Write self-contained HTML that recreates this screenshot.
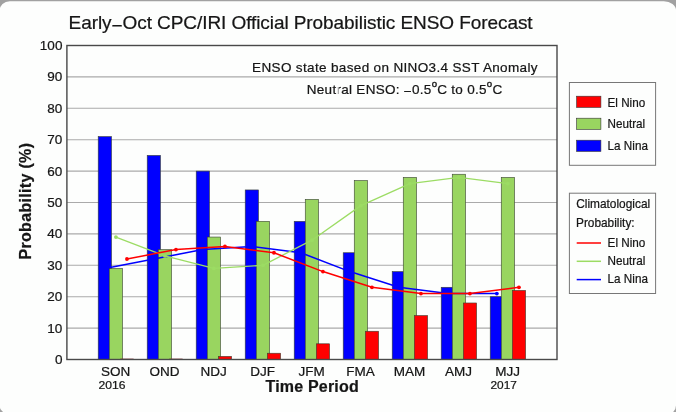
<!DOCTYPE html>
<html><head><meta charset="utf-8"><title>ENSO Forecast</title>
<style>
html,body{margin:0;padding:0;background:#a1a1a1;overflow:hidden}
body{width:676px;height:412px;position:relative}
svg{display:block;position:absolute;left:-20px;top:-20px}
text{font-family:"Liberation Sans",Arial,Helvetica,sans-serif;fill:#151515;stroke:#151515;stroke-width:0.22px}
</style></head><body>
<svg width="716" height="452" viewBox="-20 -20 716 452">
<defs><filter id="soft" x="-5%" y="-5%" width="110%" height="110%" filterUnits="objectBoundingBox"><feGaussianBlur stdDeviation="0.38"/></filter></defs>
<g filter="url(#soft)">
<rect x="-30" y="-30" width="736" height="472" fill="#a1a1a1"/>
<path d="M9.8 1.3 H663.8 A12.3 9.5 0 0 1 676.1 10.8 V405.1 A10.5 10 0 0 1 665.6 415.1 L9.8 414.4 A10.3 9.5 0 0 1 -0.5 404.9 V10.8 A10.3 9.5 0 0 1 9.8 1.3 Z" fill="#fdfefd"/>

<line x1="66.9" x2="557.0" y1="328.10" y2="328.10" stroke="#aaaaaa" stroke-width="1.1"/>
<line x1="66.9" x2="557.0" y1="296.70" y2="296.70" stroke="#aaaaaa" stroke-width="1.1"/>
<line x1="66.9" x2="557.0" y1="265.30" y2="265.30" stroke="#aaaaaa" stroke-width="1.1"/>
<line x1="66.9" x2="557.0" y1="233.90" y2="233.90" stroke="#aaaaaa" stroke-width="1.1"/>
<line x1="66.9" x2="557.0" y1="202.50" y2="202.50" stroke="#aaaaaa" stroke-width="1.1"/>
<line x1="66.9" x2="557.0" y1="171.10" y2="171.10" stroke="#aaaaaa" stroke-width="1.1"/>
<line x1="66.9" x2="557.0" y1="139.70" y2="139.70" stroke="#aaaaaa" stroke-width="1.1"/>
<line x1="66.9" x2="557.0" y1="108.30" y2="108.30" stroke="#aaaaaa" stroke-width="1.1"/>
<line x1="66.9" x2="557.0" y1="76.90" y2="76.90" stroke="#aaaaaa" stroke-width="1.1"/>
<rect x="98.20" y="136.56" width="13.3" height="222.94" fill="#0000ff" stroke="#3a4232" stroke-width="0.6"/>
<rect x="147.20" y="155.40" width="13.3" height="204.10" fill="#0000ff" stroke="#3a4232" stroke-width="0.6"/>
<rect x="196.20" y="171.10" width="13.3" height="188.40" fill="#0000ff" stroke="#3a4232" stroke-width="0.6"/>
<rect x="245.20" y="189.94" width="13.3" height="169.56" fill="#0000ff" stroke="#3a4232" stroke-width="0.6"/>
<rect x="294.20" y="221.34" width="13.3" height="138.16" fill="#0000ff" stroke="#3a4232" stroke-width="0.6"/>
<rect x="343.20" y="252.74" width="13.3" height="106.76" fill="#0000ff" stroke="#3a4232" stroke-width="0.6"/>
<rect x="392.20" y="271.58" width="13.3" height="87.92" fill="#0000ff" stroke="#3a4232" stroke-width="0.6"/>
<rect x="441.20" y="287.28" width="13.3" height="72.22" fill="#0000ff" stroke="#3a4232" stroke-width="0.6"/>
<rect x="490.20" y="296.70" width="13.3" height="62.80" fill="#0000ff" stroke="#3a4232" stroke-width="0.6"/>
<rect x="109.25" y="268.44" width="13.3" height="91.06" fill="#99d561" stroke="#3a4232" stroke-width="0.6"/>
<rect x="158.25" y="249.60" width="13.3" height="109.90" fill="#99d561" stroke="#3a4232" stroke-width="0.6"/>
<rect x="207.25" y="237.04" width="13.3" height="122.46" fill="#99d561" stroke="#3a4232" stroke-width="0.6"/>
<rect x="256.25" y="221.34" width="13.3" height="138.16" fill="#99d561" stroke="#3a4232" stroke-width="0.6"/>
<rect x="305.25" y="199.36" width="13.3" height="160.14" fill="#99d561" stroke="#3a4232" stroke-width="0.6"/>
<rect x="354.25" y="180.52" width="13.3" height="178.98" fill="#99d561" stroke="#3a4232" stroke-width="0.6"/>
<rect x="403.25" y="177.38" width="13.3" height="182.12" fill="#99d561" stroke="#3a4232" stroke-width="0.6"/>
<rect x="452.25" y="174.24" width="13.3" height="185.26" fill="#99d561" stroke="#3a4232" stroke-width="0.6"/>
<rect x="501.25" y="177.38" width="13.3" height="182.12" fill="#99d561" stroke="#3a4232" stroke-width="0.6"/>
<line x1="120.30" x2="133.60" y1="358.9" y2="358.9" stroke="#803030" stroke-width="0.6"/>
<line x1="169.30" x2="182.60" y1="358.9" y2="358.9" stroke="#803030" stroke-width="0.6"/>
<rect x="218.30" y="356.36" width="13.3" height="3.14" fill="#ff0000" stroke="#3a4232" stroke-width="0.6"/>
<rect x="267.30" y="353.22" width="13.3" height="6.28" fill="#ff0000" stroke="#3a4232" stroke-width="0.6"/>
<rect x="316.30" y="343.80" width="13.3" height="15.70" fill="#ff0000" stroke="#3a4232" stroke-width="0.6"/>
<rect x="365.30" y="331.24" width="13.3" height="28.26" fill="#ff0000" stroke="#3a4232" stroke-width="0.6"/>
<rect x="414.30" y="315.54" width="13.3" height="43.96" fill="#ff0000" stroke="#3a4232" stroke-width="0.6"/>
<rect x="463.30" y="302.98" width="13.3" height="56.52" fill="#ff0000" stroke="#3a4232" stroke-width="0.6"/>
<rect x="512.30" y="290.42" width="13.3" height="69.08" fill="#ff0000" stroke="#3a4232" stroke-width="0.6"/>
<rect x="66.9" y="45.5" width="490.1" height="314.0" fill="none" stroke="#484848" stroke-width="1.4"/>
<polyline points="104.85,268.44 153.85,259.02 202.85,249.60 251.85,246.46 300.85,252.74 349.85,271.58 398.85,287.28 447.85,293.56 496.85,293.56" fill="none" stroke="#0000ff" stroke-width="1.5" stroke-linejoin="round"/><circle cx="104.85" cy="268.44" r="1.9" fill="#0000ff"/><circle cx="153.85" cy="259.02" r="1.9" fill="#0000ff"/><circle cx="202.85" cy="249.60" r="1.9" fill="#0000ff"/><circle cx="251.85" cy="246.46" r="1.9" fill="#0000ff"/><circle cx="300.85" cy="252.74" r="1.9" fill="#0000ff"/><circle cx="349.85" cy="271.58" r="1.9" fill="#0000ff"/><circle cx="398.85" cy="287.28" r="1.9" fill="#0000ff"/><circle cx="447.85" cy="293.56" r="1.9" fill="#0000ff"/><circle cx="496.85" cy="293.56" r="1.9" fill="#0000ff"/>
<polyline points="115.90,237.04 164.90,255.88 213.90,268.44 262.90,265.30 311.90,240.18 360.90,205.64 409.90,183.66 458.90,177.38 507.90,183.66" fill="none" stroke="#9cdc64" stroke-width="1.3" stroke-linejoin="round"/><circle cx="115.90" cy="237.04" r="1.9" fill="#9cdc64"/><circle cx="164.90" cy="255.88" r="1.9" fill="#9cdc64"/><circle cx="213.90" cy="268.44" r="1.9" fill="#9cdc64"/><circle cx="262.90" cy="265.30" r="1.9" fill="#9cdc64"/><circle cx="311.90" cy="240.18" r="1.9" fill="#9cdc64"/><circle cx="360.90" cy="205.64" r="1.9" fill="#9cdc64"/><circle cx="409.90" cy="183.66" r="1.9" fill="#9cdc64"/><circle cx="458.90" cy="177.38" r="1.9" fill="#9cdc64"/><circle cx="507.90" cy="183.66" r="1.9" fill="#9cdc64"/>
<polyline points="126.95,259.02 175.95,249.60 224.95,246.46 273.95,252.74 322.95,271.58 371.95,287.28 420.95,293.56 469.95,293.56 518.95,287.28" fill="none" stroke="#ff0000" stroke-width="1.5" stroke-linejoin="round"/><circle cx="126.95" cy="259.02" r="1.9" fill="#ff0000"/><circle cx="175.95" cy="249.60" r="1.9" fill="#ff0000"/><circle cx="224.95" cy="246.46" r="1.9" fill="#ff0000"/><circle cx="273.95" cy="252.74" r="1.9" fill="#ff0000"/><circle cx="322.95" cy="271.58" r="1.9" fill="#ff0000"/><circle cx="371.95" cy="287.28" r="1.9" fill="#ff0000"/><circle cx="420.95" cy="293.56" r="1.9" fill="#ff0000"/><circle cx="469.95" cy="293.56" r="1.9" fill="#ff0000"/><circle cx="518.95" cy="287.28" r="1.9" fill="#ff0000"/>
<text x="62.4" y="363.90" font-size="13.5" text-anchor="end">0</text>
<text x="62.4" y="332.50" font-size="13.5" text-anchor="end">10</text>
<text x="62.4" y="301.10" font-size="13.5" text-anchor="end">20</text>
<text x="62.4" y="269.70" font-size="13.5" text-anchor="end">30</text>
<text x="62.4" y="238.30" font-size="13.5" text-anchor="end">40</text>
<text x="62.4" y="206.90" font-size="13.5" text-anchor="end">50</text>
<text x="62.4" y="175.50" font-size="13.5" text-anchor="end">60</text>
<text x="62.4" y="144.10" font-size="13.5" text-anchor="end">70</text>
<text x="62.4" y="112.70" font-size="13.5" text-anchor="end">80</text>
<text x="62.4" y="81.30" font-size="13.5" text-anchor="end">90</text>
<text x="62.4" y="49.90" font-size="13.5" text-anchor="end">100</text>
<text x="115.60" y="376.3" font-size="13.5" text-anchor="middle">SON</text>
<text x="164.60" y="376.3" font-size="13.5" text-anchor="middle">OND</text>
<text x="213.60" y="376.3" font-size="13.5" text-anchor="middle">NDJ</text>
<text x="262.60" y="376.3" font-size="13.5" text-anchor="middle">DJF</text>
<text x="311.60" y="376.3" font-size="13.5" text-anchor="middle">JFM</text>
<text x="360.60" y="376.3" font-size="13.5" text-anchor="middle">FMA</text>
<text x="409.60" y="376.3" font-size="13.5" text-anchor="middle">MAM</text>
<text x="458.60" y="376.3" font-size="13.5" text-anchor="middle">AMJ</text>
<text x="507.60" y="376.3" font-size="13.5" text-anchor="middle">MJJ</text>
<text x="112" y="388.8" font-size="11.4" text-anchor="middle" textLength="27" lengthAdjust="spacingAndGlyphs">2016</text>
<text x="503.7" y="388.8" font-size="11.4" text-anchor="middle" textLength="26.4" lengthAdjust="spacingAndGlyphs">2017</text>
<text x="265.5" y="392.2" font-size="16" font-weight="bold" stroke-width="0.12" textLength="93.2" lengthAdjust="spacing">Time Period</text>
<text transform="translate(31.4,259.6) rotate(-90)" font-size="16" font-weight="bold" stroke-width="0.12" textLength="116.6" lengthAdjust="spacing">Probability (%)</text>
<text x="68.6" y="29.4" font-size="19" textLength="464" lengthAdjust="spacing">Early<tspan dy="2.6">−</tspan><tspan dy="-2.6">Oct CPC</tspan>/IRI Official Probabilistic ENSO Forecast</text>
<text x="252.1" y="71.5" font-size="13.5" textLength="285.4" lengthAdjust="spacing">ENSO state based on NINO3.4 SST Anomaly</text>
<text x="306.8" y="93.8" font-size="13.5" textLength="195.4" lengthAdjust="spacing">Neutral ENSO: <tspan dy="2">−</tspan><tspan dy="-2">0.5</tspan><tspan font-size="9.6" dy="-6.4" stroke="#111" stroke-width="0.35">o</tspan><tspan dy="6.4">C to 0.5</tspan><tspan font-size="9.6" dy="-6.4" stroke="#111" stroke-width="0.35">o</tspan><tspan dy="6.4">C</tspan></text>
<rect x="336.2" y="86.2" width="2.4" height="8.6" fill="#fdfefd" opacity="0.85"/>
<rect x="569.4" y="82.5" width="86.2" height="82.8" fill="#fdfefd" stroke="#777" stroke-width="1"/>
<rect x="576.6" y="96.2" width="24.3" height="11.2" fill="#ff0000" stroke="#333" stroke-width="0.6"/>
<text x="607.6" y="106.6" font-size="12.4" textLength="37.6" lengthAdjust="spacingAndGlyphs">El Nino</text>
<rect x="576.6" y="118.2" width="24.3" height="11.2" fill="#99d561" stroke="#333" stroke-width="0.6"/>
<text x="607.6" y="128.2" font-size="12.4" textLength="37.6" lengthAdjust="spacingAndGlyphs">Neutral</text>
<rect x="576.6" y="140.2" width="24.3" height="11.2" fill="#0000ff" stroke="#333" stroke-width="0.6"/>
<text x="607.6" y="149.8" font-size="12.4" textLength="40.3" lengthAdjust="spacingAndGlyphs">La Nina</text>
<rect x="569.4" y="193.2" width="86.2" height="100.3" fill="#fdfefd" stroke="#777" stroke-width="1"/>
<text x="576.2" y="208.4" font-size="12.4" textLength="74" lengthAdjust="spacingAndGlyphs">Climatological</text>
<text x="576" y="227.3" font-size="12.4" textLength="58.6" lengthAdjust="spacingAndGlyphs">Probability:</text>
<line x1="576.7" x2="601" y1="243.0" y2="243.0" stroke="#ff0000" stroke-width="1.5"/>
<text x="607.6" y="246.8" font-size="12.4" textLength="37.8" lengthAdjust="spacingAndGlyphs">El Nino</text>
<line x1="576.7" x2="601" y1="261.3" y2="261.3" stroke="#9cdc64" stroke-width="1.5"/>
<text x="607.6" y="265.1" font-size="12.4" textLength="37.8" lengthAdjust="spacingAndGlyphs">Neutral</text>
<line x1="576.7" x2="601" y1="279.6" y2="279.6" stroke="#0000ff" stroke-width="1.5"/>
<text x="607.6" y="283.4" font-size="12.4" textLength="40.3" lengthAdjust="spacingAndGlyphs">La Nina</text>
</g></svg></body></html>
